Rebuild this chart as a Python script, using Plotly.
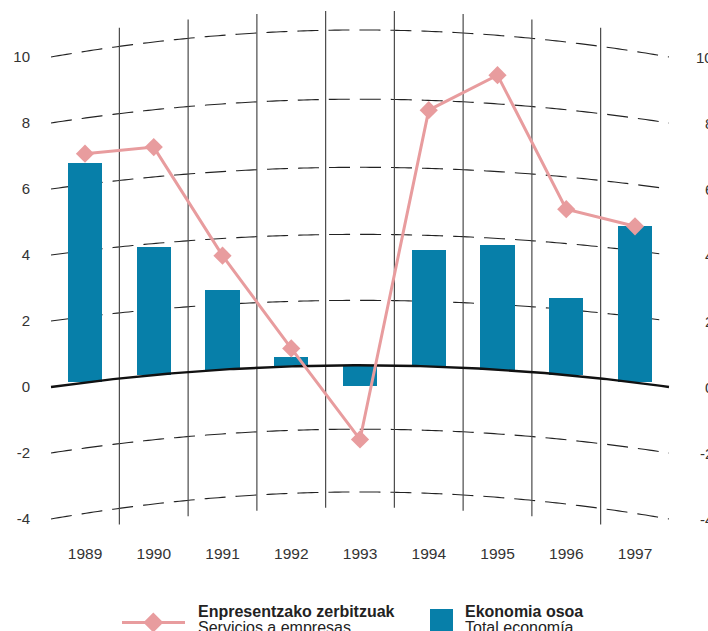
import numpy as np
import plotly.graph_objects as go

# ---------------- data ----------------
years = ["1989", "1990", "1991", "1992", "1993", "1994", "1995", "1996", "1997"]
total_economy = [6.65, 3.9, 2.45, 0.3, -0.65, 3.55, 3.8, 2.35, 4.75]          # Ekonomia osoa
business_services = [7.07, 7.27, 3.98, 1.17, -1.59, 8.39, 9.45, 5.39, 4.87]   # Enpresentzako zerbitzuak
y_ticks = [-4, -2, 0, 2, 4, 6, 8, 10]

# ---------------- curved "surface" helpers ----------------
CENTER = 4.0
HALF = 4.4945
PX_PER_UNIT = 33.0


def bulge(i):
    return np.clip(1 - ((np.asarray(i, dtype=float) - CENTER) / HALF) ** 2, 0, None)


def lift(v):
    v = np.asarray(v, dtype=float)
    return (20.5 + 0.133 * (v - 3) ** 2) / PX_PER_UNIT


def warp(i, v):
    return np.asarray(v, dtype=float) + lift(v) * bulge(i)


idx = np.arange(len(years))

# ---------------- layout geometry ----------------
W, H = 708, 631
L, R, T, B = 31, 0, 0, 96
X0_PX, DX_PX = 85.0, 68.75
ZERO_PX = 387.0


def px_to_x(px):
    return (px - X0_PX) / DX_PX


def py_to_v(py):
    return (ZERO_PX - py) / PX_PER_UNIT


xr = [px_to_x(L), px_to_x(W - R)]
yr = [py_to_v(H - B), py_to_v(T)]


def paper_x(px):
    return (px - L) / (W - L - R)


def paper_y(py):
    return (H - B - py) / (H - B - T)


BAR_C = "#077fa9"
LINE_C = "#e89c9e"
TXT_C = "#333333"
FONT = "Liberation Sans, Arial, sans-serif"

fig = go.Figure()
shapes = []

# curved gridlines
xs = np.linspace(CENTER - HALF, CENTER + HALF, 160)
for v in y_ticks:
    if v == 0:
        continue
    ys = warp(xs, v)
    path = "M " + " L ".join(f"{a:.4f},{b:.4f}" for a, b in zip(xs, ys))
    shapes.append(dict(type="path", xref="x", yref="y", path=path, layer="below",
                       line=dict(color="#222222", width=1.1, dash="21px,10px")))

# vertical separators
for s in idx[:-1] + 0.5:
    y_lo = float(warp(s, -4.5))
    y_hi = float(warp(s, 10.55))
    shapes.append(dict(type="line", xref="x", yref="y", x0=s, x1=s, y0=y_lo, y1=y_hi,
                       layer="below", line=dict(color="#4a4a4a", width=1.2)))

# bars on the curved baseline
base = lift(0) * bulge(idx)
heights = warp(idx, total_economy) - base
fig.add_trace(go.Bar(x=idx, y=heights, base=base, width=0.5,
                     marker=dict(color=BAR_C, line=dict(width=0)),
                     customdata=total_economy, hovertemplate="%{customdata}<extra></extra>",
                     name="Ekonomia osoa", showlegend=False))

# zero baseline (curved)
fig.add_trace(go.Scatter(x=xs, y=warp(xs, 0), mode="lines",
                         line=dict(color="#111111", width=2.4),
                         hoverinfo="skip", showlegend=False))

# line series
fig.add_trace(go.Scatter(x=idx, y=business_services, mode="lines+markers",
                         line=dict(color=LINE_C, width=3),
                         marker=dict(symbol="diamond", size=14, color=LINE_C),
                         name="Enpresentzako zerbitzuak", showlegend=False))

annotations = []
# right-side value labels (clipped by the canvas edge)
for v in y_ticks:
    annotations.append(dict(xref="paper", yref="y", x=paper_x(715), y=v, text=str(v),
                            xanchor="right", yanchor="middle", showarrow=False,
                            font=dict(size=15, color=TXT_C, family=FONT)))

# manual legend
LEG_Y = 622.5
shapes.append(dict(type="line", xref="paper", yref="paper",
                   x0=paper_x(122), x1=paper_x(185), y0=paper_y(LEG_Y), y1=paper_y(LEG_Y),
                   line=dict(color=LINE_C, width=3)))
dcx, dcy, dr = 153.3, LEG_Y, 10
dpath = "M {},{} L {},{} L {},{} L {},{} Z".format(
    paper_x(dcx), paper_y(dcy - dr), paper_x(dcx + dr), paper_y(dcy),
    paper_x(dcx), paper_y(dcy + dr), paper_x(dcx - dr), paper_y(dcy))
shapes.append(dict(type="path", xref="paper", yref="paper", path=dpath,
                   fillcolor=LINE_C, line=dict(width=0)))
shapes.append(dict(type="rect", xref="paper", yref="paper",
                   x0=paper_x(430), x1=paper_x(453), y0=paper_y(609), y1=paper_y(645),
                   fillcolor=BAR_C, line=dict(width=0)))

for px, t1, t2 in [(196, "Enpresentzako zerbitzuak", "Servicios a empresas"),
                   (463, "Ekonomia osoa", "Total economía")]:
    annotations.append(dict(xref="paper", yref="paper", x=paper_x(px), y=paper_y(611),
                            text=f"<b>{t1}</b>", xanchor="left", yanchor="middle",
                            showarrow=False, font=dict(size=16, color="#222222", family=FONT)))
    annotations.append(dict(xref="paper", yref="paper", x=paper_x(px), y=paper_y(627),
                            text=t2, xanchor="left", yanchor="middle",
                            showarrow=False, font=dict(size=16, color="#222222", family=FONT)))

fig.update_layout(
    width=W, height=H, autosize=False,
    margin=dict(l=L, r=R, t=T, b=B, pad=0),
    paper_bgcolor="white", plot_bgcolor="white",
    showlegend=False, bargap=0,
    shapes=shapes, annotations=annotations,
    xaxis=dict(range=xr, tickvals=idx, ticktext=years, showgrid=False, zeroline=False,
               showline=False, ticks="", ticklabelstandoff=7,
               tickfont=dict(size=15.5, color=TXT_C, family=FONT), fixedrange=True),
    yaxis=dict(range=yr, tickvals=y_ticks, ticktext=[str(v) for v in y_ticks],
               showgrid=False, zeroline=False, showline=False, ticks="",
               tickfont=dict(size=15, color=TXT_C, family=FONT), fixedrange=True),
)

fig.write_html("out.html", config={"displayModeBar": False},
               post_script="document.body.style.margin='0px';")
